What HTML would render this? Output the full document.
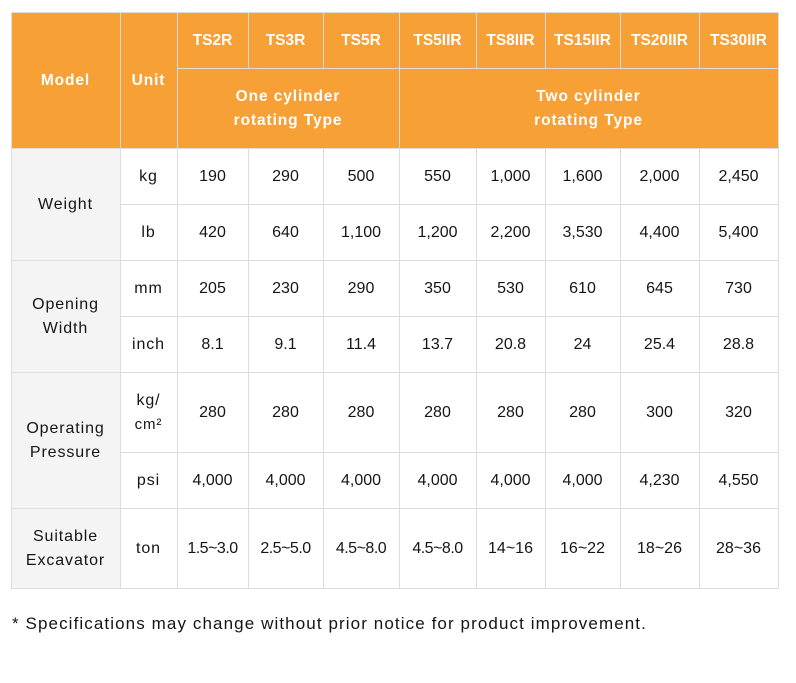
<!DOCTYPE html>
<html>
<head>
<meta charset="utf-8">
<style>
html,body{margin:0;padding:0;background:#fff;}
body{width:796px;height:683px;position:relative;overflow:hidden;font-family:"Liberation Sans",sans-serif;color:#151515;}
.bg{position:absolute;}
.c{position:absolute;display:flex;align-items:center;justify-content:center;text-align:center;line-height:24px;font-size:16px;padding-top:2px;box-sizing:border-box;}
.h{color:#fff;font-weight:bold;font-size:15.5px;}
.w{letter-spacing:0.9px;}
.n{letter-spacing:-0.5px;}
.v{position:absolute;width:1px;background:#dcdcdc;}
.hl{position:absolute;height:1px;background:#dcdcdc;}
.note{position:absolute;left:12px;top:613px;font-size:17px;line-height:22px;color:#151515;white-space:nowrap;letter-spacing:1.1px;}
</style>
</head>
<body>
<!-- backgrounds -->
<div class="bg" style="left:11px;top:12px;width:768px;height:137px;background:#F7A036;"></div>
<div class="bg" style="left:11px;top:148px;width:110px;height:441px;background:#F4F4F4;"></div>

<!-- horizontal lines -->
<div class="hl" style="left:11px;top:12px;width:768px;"></div>
<div class="hl" style="left:177px;top:68px;width:602px;"></div>
<div class="hl" style="left:11px;top:148px;width:768px;"></div>
<div class="hl" style="left:120px;top:204px;width:659px;"></div>
<div class="hl" style="left:11px;top:260px;width:768px;"></div>
<div class="hl" style="left:120px;top:316px;width:659px;"></div>
<div class="hl" style="left:11px;top:372px;width:768px;"></div>
<div class="hl" style="left:120px;top:452px;width:659px;"></div>
<div class="hl" style="left:11px;top:508px;width:768px;"></div>
<div class="hl" style="left:11px;top:588px;width:768px;"></div>

<!-- vertical lines -->
<div class="v" style="left:11px;top:12px;height:577px;"></div>
<div class="v" style="left:120px;top:12px;height:577px;"></div>
<div class="v" style="left:177px;top:12px;height:577px;"></div>
<div class="v" style="left:248px;top:12px;height:56px;"></div>
<div class="v" style="left:323px;top:12px;height:56px;"></div>
<div class="v" style="left:248px;top:148px;height:441px;"></div>
<div class="v" style="left:323px;top:148px;height:441px;"></div>
<div class="v" style="left:399px;top:12px;height:577px;"></div>
<div class="v" style="left:476px;top:12px;height:56px;"></div>
<div class="v" style="left:545px;top:12px;height:56px;"></div>
<div class="v" style="left:620px;top:12px;height:56px;"></div>
<div class="v" style="left:699px;top:12px;height:56px;"></div>
<div class="v" style="left:476px;top:148px;height:441px;"></div>
<div class="v" style="left:545px;top:148px;height:441px;"></div>
<div class="v" style="left:620px;top:148px;height:441px;"></div>
<div class="v" style="left:699px;top:148px;height:441px;"></div>
<div class="v" style="left:778px;top:12px;height:577px;"></div>

<!-- header text -->
<div class="c h w" style="left:11px;top:12px;width:109px;height:136px;">Model</div>
<div class="c h w" style="left:120px;top:12px;width:57px;height:136px;">Unit</div>
<div class="c h" style="left:177px;top:12px;width:71px;height:56px;">TS2R</div>
<div class="c h" style="left:248px;top:12px;width:75px;height:56px;">TS3R</div>
<div class="c h" style="left:323px;top:12px;width:76px;height:56px;">TS5R</div>
<div class="c h" style="left:399px;top:12px;width:77px;height:56px;">TS5IIR</div>
<div class="c h" style="left:476px;top:12px;width:69px;height:56px;">TS8IIR</div>
<div class="c h" style="left:545px;top:12px;width:75px;height:56px;">TS15IIR</div>
<div class="c h" style="left:620px;top:12px;width:79px;height:56px;">TS20IIR</div>
<div class="c h" style="left:699px;top:12px;width:79px;height:56px;">TS30IIR</div>
<div class="c h w" style="left:177px;top:68px;width:222px;height:80px;">One cylinder<br>rotating Type</div>
<div class="c h w" style="left:399px;top:68px;width:379px;height:80px;">Two cylinder<br>rotating Type</div>

<!-- row labels -->
<div class="c w" style="left:11px;top:148px;width:109px;height:112px;">Weight</div>
<div class="c w" style="left:11px;top:260px;width:109px;height:112px;">Opening<br>Width</div>
<div class="c w" style="left:11px;top:372px;width:109px;height:136px;">Operating<br>Pressure</div>
<div class="c w" style="left:11px;top:508px;width:109px;height:80px;">Suitable<br>Excavator</div>

<!-- units -->
<div class="c w" style="left:120px;top:148px;width:57px;height:56px;">kg</div>
<div class="c w" style="left:120px;top:204px;width:57px;height:56px;">lb</div>
<div class="c w" style="left:120px;top:260px;width:57px;height:56px;">mm</div>
<div class="c w" style="left:120px;top:316px;width:57px;height:56px;">inch</div>
<div class="c w" style="left:120px;top:372px;width:57px;height:80px;"><span>kg/<br><span style="font-size:15px;">cm²</span></span></div>
<div class="c w" style="left:120px;top:452px;width:57px;height:56px;">psi</div>
<div class="c w" style="left:120px;top:508px;width:57px;height:80px;">ton</div>

<!-- kg row -->
<div class="c" style="left:177px;top:148px;width:71px;height:56px;">190</div>
<div class="c" style="left:248px;top:148px;width:75px;height:56px;">290</div>
<div class="c" style="left:323px;top:148px;width:76px;height:56px;">500</div>
<div class="c" style="left:399px;top:148px;width:77px;height:56px;">550</div>
<div class="c" style="left:476px;top:148px;width:69px;height:56px;">1,000</div>
<div class="c" style="left:545px;top:148px;width:75px;height:56px;">1,600</div>
<div class="c" style="left:620px;top:148px;width:79px;height:56px;">2,000</div>
<div class="c" style="left:699px;top:148px;width:79px;height:56px;">2,450</div>

<!-- lb row -->
<div class="c" style="left:177px;top:204px;width:71px;height:56px;">420</div>
<div class="c" style="left:248px;top:204px;width:75px;height:56px;">640</div>
<div class="c" style="left:323px;top:204px;width:76px;height:56px;">1,100</div>
<div class="c" style="left:399px;top:204px;width:77px;height:56px;">1,200</div>
<div class="c" style="left:476px;top:204px;width:69px;height:56px;">2,200</div>
<div class="c" style="left:545px;top:204px;width:75px;height:56px;">3,530</div>
<div class="c" style="left:620px;top:204px;width:79px;height:56px;">4,400</div>
<div class="c" style="left:699px;top:204px;width:79px;height:56px;">5,400</div>

<!-- mm row -->
<div class="c" style="left:177px;top:260px;width:71px;height:56px;">205</div>
<div class="c" style="left:248px;top:260px;width:75px;height:56px;">230</div>
<div class="c" style="left:323px;top:260px;width:76px;height:56px;">290</div>
<div class="c" style="left:399px;top:260px;width:77px;height:56px;">350</div>
<div class="c" style="left:476px;top:260px;width:69px;height:56px;">530</div>
<div class="c" style="left:545px;top:260px;width:75px;height:56px;">610</div>
<div class="c" style="left:620px;top:260px;width:79px;height:56px;">645</div>
<div class="c" style="left:699px;top:260px;width:79px;height:56px;">730</div>

<!-- inch row -->
<div class="c" style="left:177px;top:316px;width:71px;height:56px;">8.1</div>
<div class="c" style="left:248px;top:316px;width:75px;height:56px;">9.1</div>
<div class="c" style="left:323px;top:316px;width:76px;height:56px;">11.4</div>
<div class="c" style="left:399px;top:316px;width:77px;height:56px;">13.7</div>
<div class="c" style="left:476px;top:316px;width:69px;height:56px;">20.8</div>
<div class="c" style="left:545px;top:316px;width:75px;height:56px;">24</div>
<div class="c" style="left:620px;top:316px;width:79px;height:56px;">25.4</div>
<div class="c" style="left:699px;top:316px;width:79px;height:56px;">28.8</div>

<!-- kg/cm2 row -->
<div class="c" style="left:177px;top:372px;width:71px;height:80px;">280</div>
<div class="c" style="left:248px;top:372px;width:75px;height:80px;">280</div>
<div class="c" style="left:323px;top:372px;width:76px;height:80px;">280</div>
<div class="c" style="left:399px;top:372px;width:77px;height:80px;">280</div>
<div class="c" style="left:476px;top:372px;width:69px;height:80px;">280</div>
<div class="c" style="left:545px;top:372px;width:75px;height:80px;">280</div>
<div class="c" style="left:620px;top:372px;width:79px;height:80px;">300</div>
<div class="c" style="left:699px;top:372px;width:79px;height:80px;">320</div>

<!-- psi row -->
<div class="c" style="left:177px;top:452px;width:71px;height:56px;">4,000</div>
<div class="c" style="left:248px;top:452px;width:75px;height:56px;">4,000</div>
<div class="c" style="left:323px;top:452px;width:76px;height:56px;">4,000</div>
<div class="c" style="left:399px;top:452px;width:77px;height:56px;">4,000</div>
<div class="c" style="left:476px;top:452px;width:69px;height:56px;">4,000</div>
<div class="c" style="left:545px;top:452px;width:75px;height:56px;">4,000</div>
<div class="c" style="left:620px;top:452px;width:79px;height:56px;">4,230</div>
<div class="c" style="left:699px;top:452px;width:79px;height:56px;">4,550</div>

<!-- ton row -->
<div class="c n" style="left:177px;top:508px;width:71px;height:80px;">1.5~3.0</div>
<div class="c n" style="left:248px;top:508px;width:75px;height:80px;">2.5~5.0</div>
<div class="c n" style="left:323px;top:508px;width:76px;height:80px;">4.5~8.0</div>
<div class="c n" style="left:399px;top:508px;width:77px;height:80px;">4.5~8.0</div>
<div class="c" style="left:476px;top:508px;width:69px;height:80px;">14~16</div>
<div class="c" style="left:545px;top:508px;width:75px;height:80px;">16~22</div>
<div class="c" style="left:620px;top:508px;width:79px;height:80px;">18~26</div>
<div class="c" style="left:699px;top:508px;width:79px;height:80px;">28~36</div>

<div class="note">* Specifications may change without prior notice for product improvement.</div>
</body>
</html>
